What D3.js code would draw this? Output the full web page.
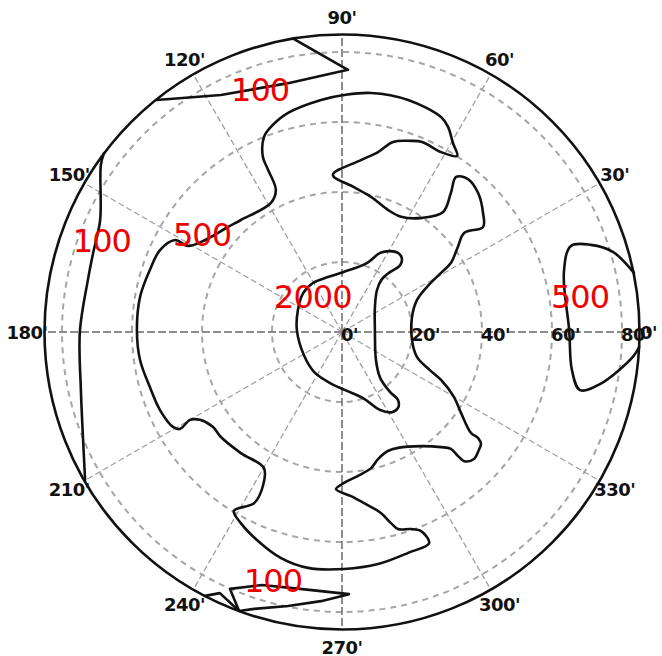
<!DOCTYPE html>
<html><head><meta charset="utf-8">
<script src="https://cdn.jsdelivr.net/npm/d3@7"></script>
<style>body{margin:0;background:#fff}svg{display:block}</style>
</head><body><svg id="c" width="662" height="656"></svg>
<script>
// ---- data ----
const maxZenith = 85;
const radialTicks = [20, 40, 60, 80];
const radialLabelValues = [0, 20, 40, 60, 80];
const radialLabels = ["0'", "20'", "40'", "60'", "80'"];
const angleTicks = [0, 30, 60, 90, 120, 150, 180, 210, 240, 270, 300, 330];
const angleLabels = ["0'", "30'", "60'", "90'", "120'", "150'", "180'", "210'", "240'", "270'", "300'", "330'"];

// contour lines, in plot units [east, north] (degrees of zenith)
const c100Top = [[-13.7,83.7],[1.7,74.9],[-15.4,71.1],[-34.6,67.7],[-52.9,66.3]];
const c100Left = [[-68,51.1],[-68.9,47.7],[-69.1,32],[-71.1,22.6],[-72.6,14.9],[-74.9,0],[-74.6,-16.6],[-74,-30.3],[-73.4,-42.3]];
const c100BottomA = [[-39.1,-75.4],[-34.9,-74.6],[-29.4,-79.7]];
const c100BottomB = [[-29.4,-79.7],[-32,-73.4],[-22.9,-72.3],[-12,-73.4],[2,-74.9],[-6,-76.9],[-15.4,-78.3],[-25.1,-79.1],[-29.4,-79.7]];
const c500Right = [[83.4,16.9],[77.4,22.9],[71.1,24.9],[65.4,24.6],[63.4,17.1],[64.9,0.6],[65.7,-10.9],[68,-16.6],[73.7,-14.9],[83.1,-7.1],[84.9,-4.3]];
const c500Main = [[-58.6,0.6],[-57.7,10],[-54.9,17.7],[-52,23.4],[-47.7,26.3],[-44,24.6],[-39.1,26.3],[-32.6,30],[-28.9,32],[-20.3,36.9],[-18.9,40.6],[-21.1,46.3],[-22.6,50],[-22.3,55.7],[-20.3,58.6],[-15.4,62.6],[-6,66.3],[0.6,67.7],[8.3,68.3],[18.9,66.3],[28.3,61.4],[30.3,58.6],[31.7,54],[32.9,50.3],[28.3,51.4],[22.9,54.3],[19.7,54.6],[14.6,54.3],[10.3,51.4],[5.4,49.1],[-2.6,44.9],[3.4,41.4],[8.3,38.6],[13.1,34.9],[16.9,32.9],[22.9,32.6],[28.9,34.3],[31.1,39.7],[32.6,44.3],[36,43.7],[38.9,39.7],[40.3,34],[40.3,30],[34.9,28.3],[33.1,24.3],[31.1,19.7],[28.3,16.9],[24.3,12.9],[21.4,9.1],[20,4.3],[20,-2.3],[21.4,-7.1],[25.1,-10.9],[28.3,-13.7],[32,-18.6],[34,-23.1],[36.9,-28.9],[38.9,-30.3],[39.7,-32],[39.1,-33.7],[37.7,-36.3],[34.9,-36.9],[33.1,-35.4],[31.1,-33.4],[28.3,-32.9],[22.6,-32.6],[16,-33.1],[13.1,-34],[10.3,-36.3],[8.3,-38.9],[4.6,-41.1],[0.6,-43.1],[-1.7,-44.9],[2.6,-46.9],[6.3,-48.9],[11.1,-51.7],[14,-54.6],[16,-56.3],[19.7,-56.3],[22.6,-56.9],[24.9,-60.3],[18.9,-63.1],[10.3,-66.3],[0.6,-67.7],[-9.7,-67.4],[-17.4,-64.6],[-24,-59.7],[-28.9,-54.6],[-30.9,-51.1],[-25.1,-48.9],[-22.6,-44],[-22.3,-38.9],[-28.9,-34.6],[-34.6,-30],[-36.9,-27.1],[-40.6,-25.1],[-43.4,-25.1],[-46.3,-27.7],[-48.3,-27.1],[-52,-22.3],[-54.9,-15.7],[-57.7,-8]];
const c2000 = [[-12.9,0.6],[-12.6,6.3],[-11.1,11.1],[-8.3,14],[-4,15.7],[0.3,17.1],[7.1,19.7],[10.9,22.6],[13.7,23.1],[16,22.6],[17.1,21.1],[16.6,19.1],[13.7,17.1],[11.4,15.1],[10,12],[9.4,7.1],[9.4,0.6],[9.7,-8],[10.9,-13.1],[13.7,-17.1],[16,-19.4],[16,-21.7],[14.3,-22.9],[10.9,-22.3],[6,-18.9],[0.9,-16.6],[-3.4,-14.6],[-8,-11.4],[-10.9,-6.6]];

const levelTexts = ["100", "100", "500", "2000", "500", "100"];
const levelTextAt = [[-31.7,66],[-76.9,22.9],[-48.3,24.6],[-19.4,6.9],[59.7,6.9],[-28,-74.3]];

// ---- drawing ----
const svg = d3.select("#c");
const cx = 342, cy = 332, R = 297.5;
const x = d3.scaleLinear().domain([-maxZenith, maxZenith]).range([cx - R, cx + R]);
const y = d3.scaleLinear().domain([-maxZenith, maxZenith]).range([cy + R, cy - R]);
const r = d3.scaleLinear().domain([0, maxZenith]).range([0, R]);
const rad = d => d * Math.PI / 180;

const g = svg.append("g");

// rings
g.selectAll("circle.ring").data(radialTicks).join("circle")
  .attr("cx", x(0)).attr("cy", y(0)).attr("r", d => r(d))
  .attr("fill", "none").attr("stroke", "#a6a6a6").attr("stroke-width", 2)
  .attr("stroke-dasharray", "6,5");

// spokes
g.selectAll("line.spoke").data(angleTicks).join("line")
  .attr("x1", x(0)).attr("y1", y(0))
  .attr("x2", d => x(maxZenith * Math.cos(rad(d))))
  .attr("y2", d => y(maxZenith * Math.sin(rad(d))))
  .attr("stroke", d => d % 90 === 0 ? "#6a6a6a" : "#a0a0a0")
  .attr("stroke-width", d => d % 90 === 0 ? 1.5 : 1.3)
  .attr("stroke-dasharray", d => d % 90 === 0 ? "8,3" : "6,3");

// contours
const lineLin = d3.line().x(d => x(d[0])).y(d => y(d[1]));
const lineSmooth = d3.line().x(d => x(d[0])).y(d => y(d[1])).curve(d3.curveCatmullRom.alpha(0.5));
const lineClosed = d3.line().x(d => x(d[0])).y(d => y(d[1])).curve(d3.curveCatmullRomClosed.alpha(0.5));
const cont = svg.append("g").attr("fill", "none").attr("stroke", "#111").attr("stroke-width", 2.6)
  .attr("stroke-linejoin", "round").attr("stroke-linecap", "round");
[c100Top, c100BottomA, c100BottomB].forEach(p => cont.append("path").attr("d", lineLin(p)));
[c100Left, c500Right].forEach(p => cont.append("path").attr("d", lineSmooth(p)));
[c500Main, c2000].forEach(p => cont.append("path").attr("d", lineClosed(p)));

// outer circle
svg.append("circle").attr("cx", x(0)).attr("cy", y(0)).attr("r", r(maxZenith))
  .attr("fill", "none").attr("stroke", "#111").attr("stroke-width", 2.6);

// radial labels
svg.selectAll("text.rl").data(radialLabelValues).join("text")
  .attr("x", d => x(d) - 1).attr("y", y(0) + 9)
  .attr("font-family", "DejaVu Sans").attr("font-weight", "bold").attr("font-size", 18)
  .attr("letter-spacing", -0.5).attr("fill", "#111")
  .text((d, i) => radialLabels[i]);

// angle labels
const labR = d => d === 0 ? maxZenith + 2.6 : maxZenith + 5;
svg.selectAll("text.al").data(angleTicks).join("text")
  .attr("x", d => x(labR(d) * Math.cos(rad(d))))
  .attr("y", d => y(labR(d) * Math.sin(rad(d))))
  .attr("text-anchor", "middle").attr("dominant-baseline", "central")
  .attr("font-family", "DejaVu Sans").attr("font-weight", "bold").attr("font-size", 18)
  .attr("letter-spacing", -0.5).attr("fill", "#111")
  .text((d, i) => angleLabels[i]);

// level labels
svg.selectAll("text.lv").data(levelTexts).join("text")
  .attr("x", (d, i) => x(levelTextAt[i][0]))
  .attr("y", (d, i) => y(levelTextAt[i][1]))
  .attr("font-family", "DejaVu Sans").attr("font-size", 32)
  .attr("letter-spacing", -1).attr("fill", "#ee0000")
  .text(d => d);
</script></body></html>
